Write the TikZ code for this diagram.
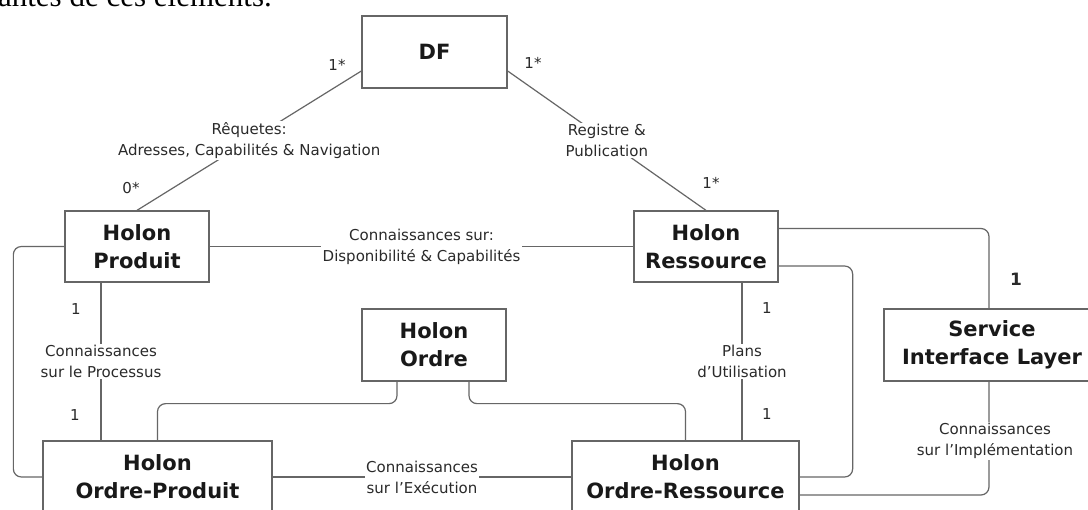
\documentclass[tikz,border=0pt]{standalone}
\usepackage{fontspec}
\setmainfont{DejaVu Sans}
\newfontfamily\pageserif{Liberation Serif}
\usetikzlibrary{calc}
\definecolor{linegray}{HTML}{666666}
\definecolor{txtgray}{HTML}{2A2A2A}
\tikzset{
 holon/.style={draw=linegray, line width=1.3pt, fill=white, inner sep=0pt, align=center, font=\fontsize{21}{28}\selectfont\bfseries, text=black!90},
 conn/.style={draw=linegray, line width=1.2pt},
 lbl/.style={fill=white, inner sep=1.5pt, align=center, font=\fontsize{15}{21}\selectfont, text=txtgray},
 mult/.style={inner sep=0pt, font=\fontsize{15}{18}\selectfont, text=txtgray},
}
\begin{document}
\begin{tikzpicture}[x=1pt,y=-1pt]
\clip (0,0) rectangle (1088,510);
\fill[white] (0,0) rectangle (1088,510);
% page text fragment
\node[anchor=south east, inner sep=0pt, font=\pageserif\fontsize{31}{36}\selectfont] (pagetxt) at (272,7) {antes de ces éléments.};
% boxes
\node[holon, minimum width=145pt, minimum height=72pt] (df) at (434.5,52) {DF};
\node[holon, minimum width=144pt, minimum height=71pt] (prod) at (137,246.5) {Holon\\Produit};
\node[holon, minimum width=144pt, minimum height=71pt] (res) at (706,246.5) {Holon\\Ressource};
\node[holon, minimum width=144pt, minimum height=72pt] (ordre) at (434,345) {Holon\\Ordre};
\node[holon, minimum width=229pt, minimum height=72pt] (op) at (157.5,477) {Holon\\Ordre-Produit};
\node[holon, minimum width=227pt, minimum height=72pt] (or) at (685.5,477) {Holon\\Ordre-Ressource};
\node[holon, minimum width=216pt, minimum height=72pt] (sil) at (992,345) {Service\\Interface Layer};
% connectors
\draw[conn] ([yshift=-19pt]df.west) -- node[lbl] (lreq) {Rêquetes:\\Adresses, Capabilités \& Navigation} (prod.north);
\draw[conn] ([yshift=-19pt]df.east) -- node[lbl] (lreg) {Registre \&\\Publication} (res.north);
\draw[conn] (prod.east) -- node[lbl] (ldisp) {Connaissances sur:\\Disponibilité \& Capabilités} (res.west);
\draw[conn] ([xshift=-36pt]prod.south) -- node[lbl] (lproc) {Connaissances\\sur le Processus} ([xshift=-36pt]prod.south |- op.north);
\draw[conn] ([xshift=36pt]res.south) -- node[lbl] (lplan) {Plans\\d’Utilisation} ([xshift=36pt]res.south |- or.north);
\draw[conn, rounded corners=8pt] ([xshift=-37pt]ordre.south) -- ++(0,22) -| (op.north);
\draw[conn, rounded corners=8pt] ([xshift=35pt]ordre.south) -- ++(0,22) -| (or.north);
\draw[conn] (op.east) -- node[lbl] (lexec) {Connaissances\\sur l’Exécution} (or.west);
\draw[conn, rounded corners=8pt] (prod.west) -- ++(-51,0) |- (op.west);
\draw[conn, rounded corners=8pt] ([yshift=-19.5pt]res.east) -- ++(74,0) |- (or.east);
\draw[conn, rounded corners=8pt] ([yshift=18pt]res.east) -| ([xshift=-3pt]sil.north);
\draw[conn, rounded corners=8pt] ([xshift=-3pt]sil.south) |- ([yshift=-18pt]or.east);
\node[lbl] (limpl) at (995,441) {Connaissances\\sur l’Implémentation};
% multiplicities
\node[mult] (m1) at (337,65) {1*};
\node[mult] (m2) at (131,188) {0*};
\node[mult] (m3) at (533,63) {1*};
\node[mult] (m4) at (711,183) {1*};
\node[mult] (m5) at (76,309) {1};
\node[mult] (m6) at (75,415) {1};
\node[mult] (m7) at (767,308) {1};
\node[mult] (m8) at (767,414) {1};
\node[mult, font=\fontsize{17}{20}\selectfont\bfseries] (m9) at (1016,279) {1};
\end{tikzpicture}
\end{document}
